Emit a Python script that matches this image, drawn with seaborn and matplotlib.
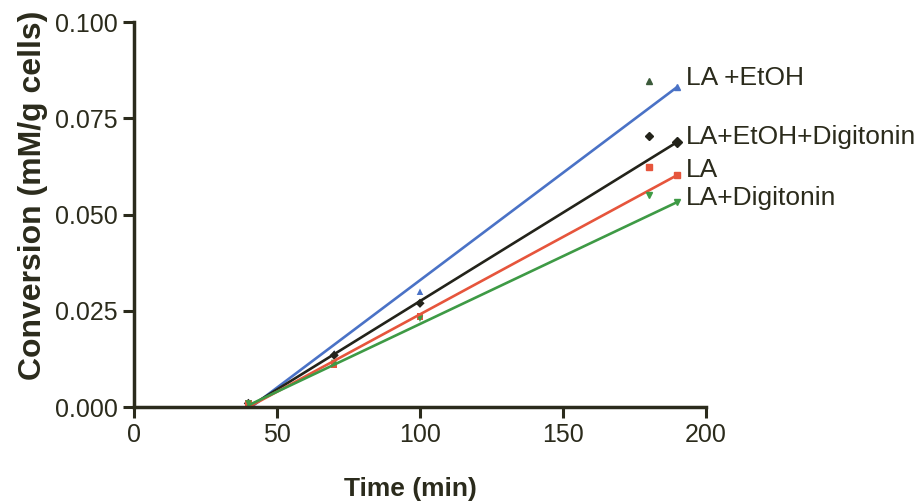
import matplotlib
matplotlib.use("Agg")
import matplotlib.pyplot as plt
import seaborn as sns
import pandas as pd

# ---- data ----
series = ["LA +EtOH", "LA+EtOH+Digitonin", "LA", "LA+Digitonin"]
time_points = [40, 70, 100]
values = {
    "LA +EtOH": [0.0005, 0.0140, 0.0300],
    "LA+EtOH+Digitonin": [0.0010, 0.0135, 0.0270],
    "LA": [0.0010, 0.0110, 0.0235],
    "LA+Digitonin": [0.0010, 0.0115, 0.0230],
}
fit_x = [40, 190]
fit_y = {
    "LA +EtOH": [-0.0005, 0.0832],
    "LA+EtOH+Digitonin": [0.0000, 0.0689],
    "LA": [0.0000, 0.0603],
    "LA+Digitonin": [0.0005, 0.0533],
}
label_marker_x = 180
label_marker_y = [0.0848, 0.0704, 0.0624, 0.0551]
label_text_y = [0.0855, 0.0701, 0.0616, 0.0543]

colors = {"LA +EtOH": "#4a72c6", "LA+EtOH+Digitonin": "#23231a",
          "LA": "#e6553c", "LA+Digitonin": "#3e9a45"}
marker_colors = {"LA +EtOH": "#3b5a3a", "LA+EtOH+Digitonin": "#23231a",
                 "LA": "#e6553c", "LA+Digitonin": "#3e9a45"}
markers = {"LA +EtOH": "^", "LA+EtOH+Digitonin": "D", "LA": "s", "LA+Digitonin": "v"}

sns.set_style("ticks")
plt.rcParams['font.family'] = ['Liberation Sans', 'DejaVu Sans']
ink = "#2b2b1c"

fig = plt.figure(figsize=(9.19, 5.04), dpi=100)
ax = fig.add_axes([0.1458, 0.192, 0.6224, 0.764])

pts = pd.DataFrame([(s, t, v) for s in series for t, v in zip(time_points, values[s])],
                   columns=["series", "time", "conv"])
fits = pd.DataFrame([(s, t, v) for s in series for t, v in zip(fit_x, fit_y[s])],
                    columns=["series", "time", "conv"])

sns.lineplot(data=fits, x="time", y="conv", hue="series", palette=colors,
             hue_order=series, legend=False, ax=ax, linewidth=1.9)
for s in series:
    sub = fits[fits.series == s]
    ax.plot(sub.time.iloc[-1], sub.conv.iloc[-1], marker=markers[s], color=colors[s],
            markersize=5, linestyle="none")
sns.scatterplot(data=pts, x="time", y="conv", hue="series", style="series",
                markers=markers, palette=colors, hue_order=series, legend=False,
                ax=ax, s=22, edgecolor="none")

for s, my, ty in zip(series, label_marker_y, label_text_y):
    ax.plot(label_marker_x, my, marker=markers[s], color=marker_colors[s],
            markersize=4.5, linestyle="none", clip_on=False)
    ax.text(193, ty, s, fontsize=19, color=ink, va="center", ha="left", clip_on=False)

ax.set_xlim(0, 200)
ax.set_ylim(0, 0.100)
ax.set_xticks([0, 50, 100, 150, 200])
ax.set_yticks([0.0, 0.025, 0.05, 0.075, 0.1])
ax.set_yticklabels(["0.000", "0.025", "0.050", "0.075", "0.100"])
ax.tick_params(axis="both", labelsize=18, colors=ink, width=2.2, length=8, direction="out")
ax.set_xlabel("Time (min)", fontsize=19, fontweight="bold", color=ink)
ax.set_ylabel("Conversion (mM/g cells)", fontsize=23, fontweight="bold", color=ink)
ax.xaxis.set_label_coords(0.4825, -0.180)
ax.yaxis.set_label_coords(-0.150, 0.55)
for side in ["top", "right"]:
    ax.spines[side].set_visible(False)
for side in ["left", "bottom"]:
    ax.spines[side].set_linewidth(2.5)
    ax.spines[side].set_color(ink)

fig.savefig("out.png", dpi=100)
